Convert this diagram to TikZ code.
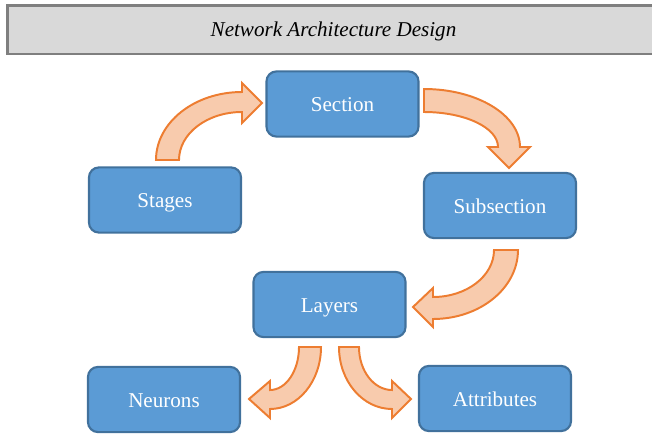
\documentclass[tikz,border=0pt]{standalone}
\usepackage{fontspec}
\setmainfont{Liberation Serif}
\definecolor{boxfill}{HTML}{5B9BD5}
\definecolor{boxline}{HTML}{41719C}
\definecolor{arrfill}{HTML}{F8CBAD}
\definecolor{arrline}{HTML}{ED7D31}
\definecolor{barfill}{HTML}{D9D9D9}
\definecolor{barline}{HTML}{7F7F7F}

\begin{document}
\begin{tikzpicture}[%
    x=0.025cm, y=-0.025cm,      % Units are pixels of the sketch, y goes down
    ]
% -------------------------------------------------
% Box styles
\tikzset{
  base/.style={draw, align=center, font=\fontsize{15}{18}\selectfont},
  box/.style={base, rounded corners=0.25cm, fill=boxfill, draw=boxline,
    line width=1.5pt, text=white, minimum width=3.8cm, minimum height=1.63cm,
    text height=12pt, text depth=0.7pt},
  bar/.style={base, fill=barfill, draw=barline, line width=2pt,
    minimum width=16.3cm, minimum height=1.22cm, text height=10pt, text depth=0pt,
    font=\fontsize{15}{18}\selectfont\itshape},
  % Block arrows between the boxes
  blk/.style={fill=arrfill, draw=arrline, line width=1.4pt, line join=miter}
}
\useasboundingbox (0,0) rectangle (652,435);
% -------------------------------------------------
% Heading and boxes
\node [bar] (title) at (333.5,29.5) {Network Architecture Design};
\node [box] (section) at (342.5,104) {Section};
\node [box] (stages) at (165,200) {Stages};
\node [box] (subsec) at (500,205.5) {Subsection};
\node [box] (layers) at (329.5,304.5) {Layers};
\node [box] (neurons) at (164,399.5) {Neurons};
\node [box] (attrib) at (495,398.5) {Attributes};

% Centres of the bent arrows
\coordinate (c1) at (242,160);
\coordinate (c2) at (424,147);
\coordinate (c3) at (433,250);
\coordinate (c4) at (270,347);
\coordinate (c5) at (392,347);

\draw[blk] (c1) ++(-86,0) arc[start angle=180, end angle=270, x radius=86, y radius=68]
  -- ++(0,-9) -- ++(20,20) -- ++(-20,20) -- ++(0,-11)
  arc[start angle=270, end angle=180, x radius=63, y radius=48] -- cycle;%Stages,Section
\draw[blk] (c2) ++(0,-58) arc[start angle=270, end angle=360, x radius=96, y radius=58]
  -- ++(10,0) -- ++(-21,21) -- ++(-21,-21) -- ++(10,0)
  arc[start angle=360, end angle=270, x radius=74, y radius=35] -- cycle;%Section,Subsection
\draw[blk] (c3) ++(85,0) arc[start angle=0, end angle=90, x radius=85, y radius=69]
  -- ++(0,8) -- ++(-20,-20) -- ++(20,-19) -- ++(0,9)
  arc[start angle=90, end angle=0, x radius=61, y radius=47] -- cycle;%Subsection,Layers
\draw[blk] (c4) ++(51,0) arc[start angle=0, end angle=90, x radius=51, y radius=62]
  -- ++(0,9) -- ++(-21,-19) -- ++(21,-18) -- ++(0,9)
  arc[start angle=90, end angle=0, x radius=29, y radius=43] -- cycle;%Layers,Neurons
\draw[blk] (c5) ++(-53,0) arc[start angle=180, end angle=90, x radius=53, y radius=62]
  -- ++(0,9) -- ++(19,-19) -- ++(-19,-18) -- ++(0,9)
  arc[start angle=90, end angle=180, x radius=33, y radius=43] -- cycle;%Layers,Attributes

% -------------------------------------------------
\end{tikzpicture}
\end{document}
